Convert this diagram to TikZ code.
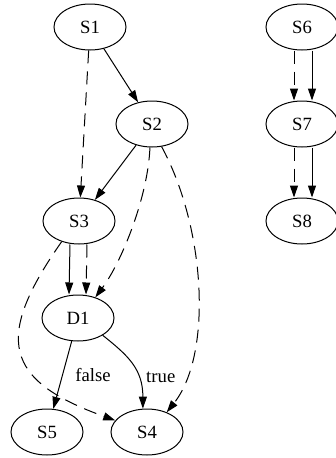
\documentclass[tikz,border=0pt]{standalone}
\usepackage{fontspec}
\setmainfont{Liberation Serif}
\usetikzlibrary{shapes.geometric, arrows.meta, positioning}

\begin{document}
\begin{tikzpicture}[node distance=97pt, x=1pt, y=1pt, font=\fontsize{18.7}{22}\selectfont]
		\tikzstyle{state} = [ellipse, minimum width=72pt, minimum height=46pt, inner sep=0pt, text centered, draw=black, line width=1pt]
		\tikzstyle{line} = [draw, line width=1pt, -{Triangle[length=12pt, width=8pt]}]
		\tikzstyle{dline} = [line, dash pattern=on 13pt off 8pt]
		\useasboundingbox (-90,27) rectangle (246,-431);
		\node (S1) [state] {S1};
		\node (S2) [state, below of=S1, xshift=62pt] {S2};
		\node (S3) [state, below of=S2, xshift=-73pt] {S3};
		\node (D1) [state, below of=S3, xshift=-1pt] {D1};
		\node (S4) [state, below of=D1, xshift=69pt, yshift=-17pt] {S4};
		\node (S5) [state, left of=S4, xshift=-3pt] {S5};
		\node (S6) [state, right of=S1, xshift=115pt] {S6};
		\node (S7) [state, below of=S6] {S7};
		\node (S8) [state, below of=S7] {S8};

		\path [line] (S1) -- (S2);
		\path [dline] (S1) -- (S3);
		\path [line] (S2) -- (S3);
		\path [dline] (S2.265) .. controls +(-2,-50) and +(26,35) .. (D1.50);
		\path [dline] (S2.293) .. controls +(44,-81) and +(46,58) .. (S4.45);
		\path [line] ([xshift=-9pt]S3.south) -- ([xshift=-9pt]D1.north);
		\path [dline] ([xshift=8pt]S3.south) -- ([xshift=8pt]D1.north);
		\path [dline] (S3.230) .. controls +(-68,-97) and +(-111,40) .. (S4.160);
		\path [line] (D1) -- node[right=9pt] {false} (S5);
		\path [line] (D1.-35) .. controls +(25,-20) and +(0,40) .. node[pos=0.68, right=4pt] {true} (S4.100);
		\path [dline] ([xshift=-8pt]S6.south) -- ([xshift=-8pt]S7.north);
		\path [line] ([xshift=10pt]S6.south) -- ([xshift=10pt]S7.north);
		\path [dline] ([xshift=-8pt]S7.south) -- ([xshift=-8pt]S8.north);
		\path [line] ([xshift=10pt]S7.south) -- ([xshift=10pt]S8.north);
	\end{tikzpicture}
\end{document}
